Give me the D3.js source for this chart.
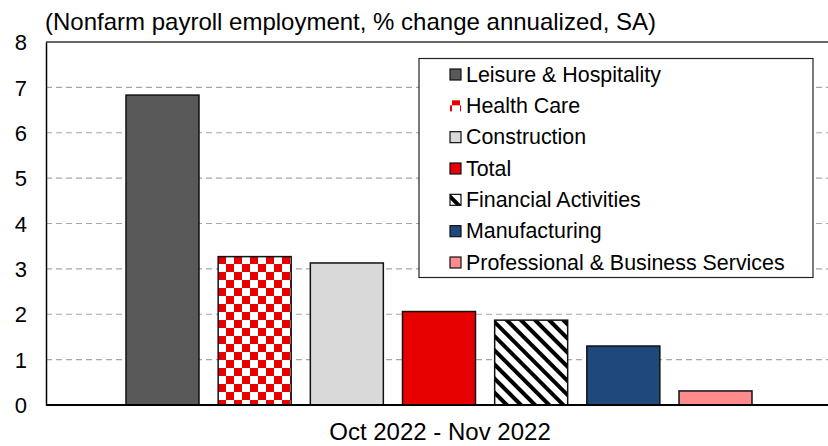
<!DOCTYPE html>
<html>
<head>
<meta charset="utf-8">
<script src="https://cdn.jsdelivr.net/npm/d3@7"></script>
<style>
  body { margin: 0; background: #fff; }
  svg text { font-family: "Liberation Sans", Arial, sans-serif; fill: #000; }
</style>
</head>
<body>
<svg width="828" height="446"></svg>
<script>
// data
var categories = ["Leisure & Hospitality", "Health Care", "Construction", "Total",
                  "Financial Activities", "Manufacturing", "Professional & Business Services"];
var values = [6.83, 3.27, 3.13, 2.06, 1.87, 1.30, 0.31];
var yTicks = [0, 1, 2, 3, 4, 5, 6, 7, 8];
var fills = ["#595959", "url(#checker)", "#d9d9d9", "#e60000", "url(#stripes)", "#1f497d", "#ff8c8c"];
var titleText = "(Nonfarm payroll employment, % change annualized, SA)";
var xLabel = "Oct 2022 - Nov 2022";

var svg = d3.select("svg"),
    width = +svg.attr("width"),
    height = +svg.attr("height");

var plotLeft = 46, plotTop = 42, plotBottom = 405;

var defs = svg.append("defs");
var checker = defs.append("pattern")
    .attr("id", "checker")
    .attr("patternUnits", "userSpaceOnUse")
    .attr("x", 218).attr("y", 256)
    .attr("width", 16).attr("height", 16);
checker.append("rect").attr("width", 16).attr("height", 16).attr("fill", "#fff");
checker.append("rect").attr("width", 8).attr("height", 8).attr("fill", "#e60000");
checker.append("rect").attr("x", 8).attr("y", 8).attr("width", 8).attr("height", 8).attr("fill", "#e60000");

var stripes = defs.append("pattern")
    .attr("id", "stripes")
    .attr("patternUnits", "userSpaceOnUse")
    .attr("width", 10).attr("height", 10)
    .attr("patternTransform", "rotate(-45)");
stripes.append("rect").attr("width", 10).attr("height", 10).attr("fill", "#fff");
stripes.append("rect").attr("width", 4).attr("height", 10).attr("fill", "#000");

var x = d3.scaleBand()
    .domain(categories)
    .range([plotLeft, 832])
    .paddingInner(0.208)
    .paddingOuter(0.868);

var y = d3.scaleLinear()
    .domain([0, 8])
    .range([plotBottom, plotTop]);

// gridlines
svg.append("g")
  .selectAll("line")
  .data(yTicks.filter(function(d) { return d > 0 && d < 8; }))
  .enter().append("line")
    .attr("x1", plotLeft).attr("x2", width)
    .attr("y1", function(d) { return y(d); })
    .attr("y2", function(d) { return y(d); })
    .style("stroke", "#a6a6a6")
    .style("stroke-width", "1.2px")
    .style("stroke-dasharray", "6,4");

// top border
svg.append("line")
    .attr("x1", plotLeft).attr("x2", width)
    .attr("y1", y(8)).attr("y2", y(8))
    .style("stroke", "#333").style("stroke-width", "1.5px");

// bars
svg.append("g")
  .selectAll("rect")
  .data(values)
  .enter().append("rect")
    .attr("x", function(d, i) { return x(categories[i]); })
    .attr("y", function(d) { return y(d); })
    .attr("width", x.bandwidth())
    .attr("height", function(d) { return y(0) - y(d); })
    .style("fill", function(d, i) { return fills[i]; })
    .style("stroke", "#111")
    .style("stroke-width", "1.5px");

// y axis
var yAxis = svg.append("g")
    .attr("transform", "translate(" + plotLeft + ",0)")
    .call(d3.axisLeft(y).tickValues(yTicks).tickSize(0).tickPadding(19).tickFormat(d3.format("d")));
yAxis.select(".domain").style("stroke", "#000").style("stroke-width", "1.5px");
yAxis.selectAll("text")
    .style("font-size", "22px")
    .style("font-family", "'Liberation Sans', Arial, sans-serif")
    .attr("dy", "0.35em");

// x axis line
svg.append("line")
    .attr("x1", plotLeft).attr("x2", width)
    .attr("y1", y(0)).attr("y2", y(0))
    .style("stroke", "#000").style("stroke-width", "2px");

svg.append("text")
    .attr("x", 45).attr("y", 30)
    .style("font-size", "24px")
    .text(titleText);

svg.append("text")
    .attr("x", 440).attr("y", 440)
    .style("text-anchor", "middle")
    .style("font-size", "24px")
    .text(xLabel);

// legend
var lg = svg.append("g");
lg.append("rect")
    .attr("x", 419).attr("y", 58.5)
    .attr("width", 394).attr("height", 219)
    .style("fill", "#fff").style("stroke", "#222").style("stroke-width", "1.2px");

var legendY = d3.scalePoint().domain(categories).range([74, 262]);

var item = lg.selectAll("g.item")
    .data(categories)
  .enter().append("g")
    .attr("class", "item")
    .attr("transform", function(d) { return "translate(450," + legendY(d) + ")"; });

item.append("rect")
    .attr("x", 0).attr("y", -5)
    .attr("width", 11).attr("height", 11)
    .style("fill", function(d, i) { return fills[i]; })
    .style("stroke", function(d, i) { return i === 1 ? "none" : "#111"; })
    .style("stroke-width", "1.2px");

item.append("text")
    .attr("x", 16).attr("dy", "0.35em")
    .style("font-size", "21.4px")
    .text(function(d) { return d; });
</script>
</body>
</html>
